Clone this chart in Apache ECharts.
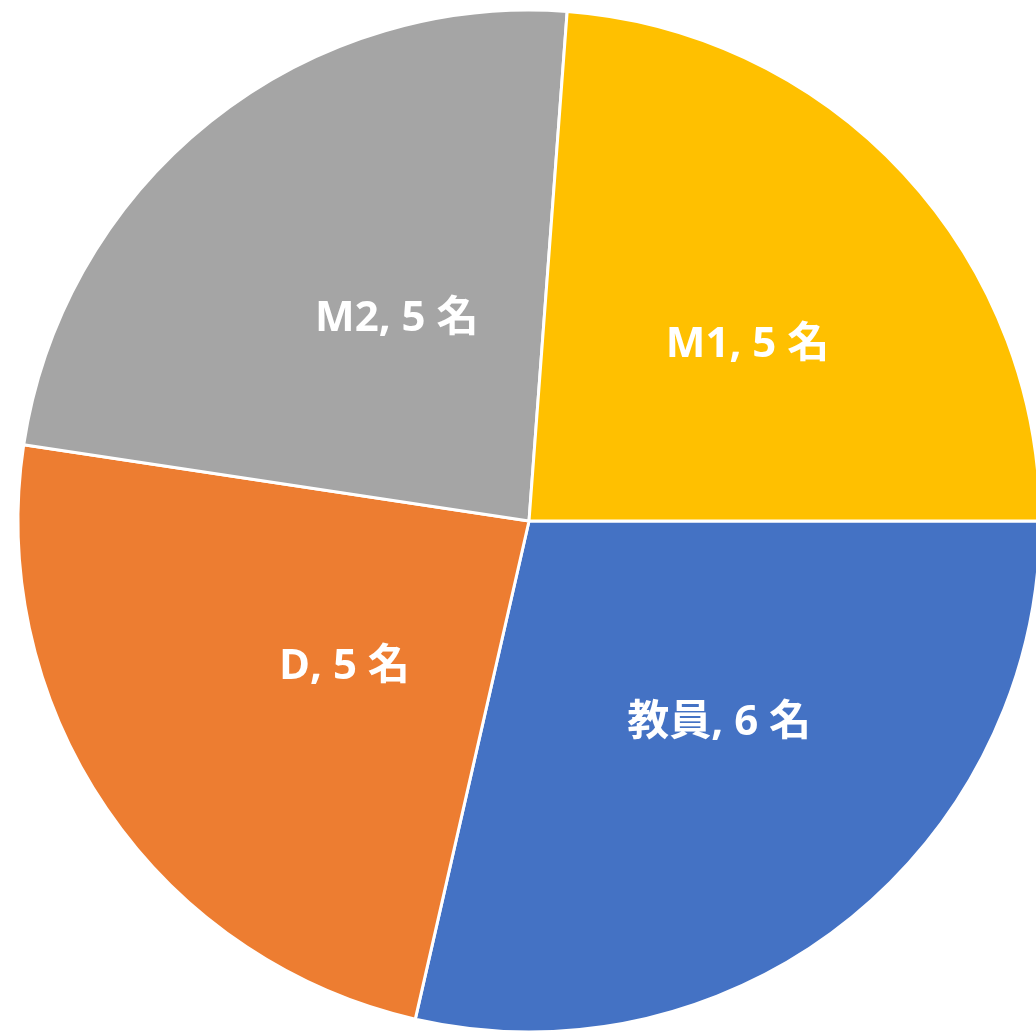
<!DOCTYPE html>
<html>
<head>
<meta charset="utf-8">
<script src="https://cdn.jsdelivr.net/npm/echarts@6/dist/echarts.min.js"></script>
<style>
  html, body { margin: 0; padding: 0; background: #fff; }
  #chart { width: 1036px; height: 1033px; }
</style>
</head>
<body>
<div id="chart"></div>
<script>
// clockwise from 3 o'clock
const names = ["教員", "D", "M2", "M1"];
const counts = [6, 5, 5, 5];
const colors = ["#4472C4", "#ED7D31", "#A5A5A5", "#FFC000"];

const chart = echarts.init(document.getElementById("chart"), null, { renderer: "canvas" });

const data = names.map((n, i) => ({
  name: n,
  value: counts[i],
  itemStyle: { color: colors[i] }
}));

chart.setOption({
  animation: false,
  series: [
    {
      type: "pie",
      center: [529, 521],
      radius: [0, 511],
      startAngle: 0,
      clockwise: true,
      avoidLabelOverlap: false,
      itemStyle: { borderColor: "#fff", borderWidth: 3 },
      label: {
        show: true,
        position: "inside",
        formatter: "{b}, {c} 名",
        color: "#fff",
        fontSize: 42,
        fontWeight: "bold",
        fontFamily: "'Open Sans', 'Noto Sans CJK JP', sans-serif",
        padding: [12, 0, 0, 58]
      },
      labelLine: { show: false },
      emphasis: { disabled: true },
      data: data
    }
  ]
});
</script>
</body>
</html>
